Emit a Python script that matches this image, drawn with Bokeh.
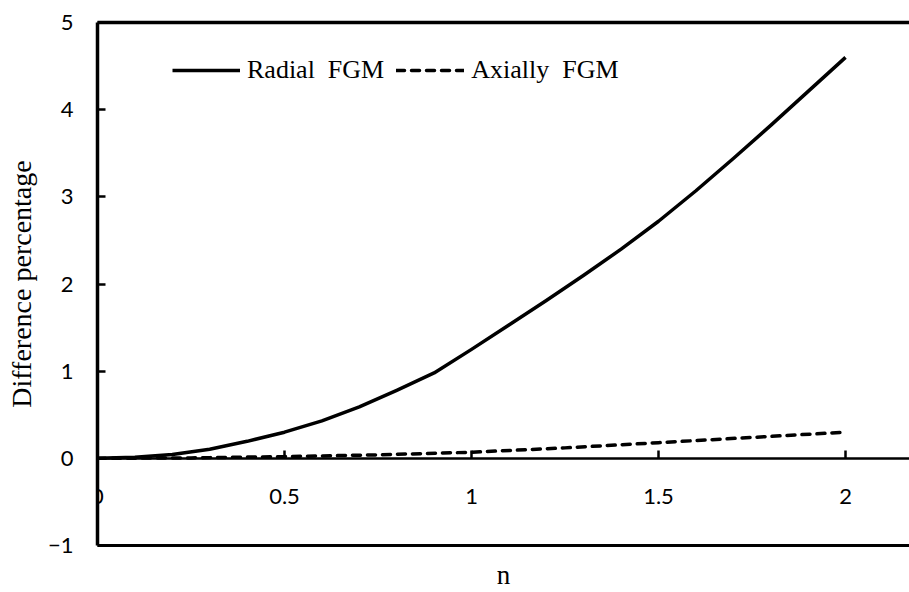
from bokeh.plotting import figure
from bokeh.models import (LinearAxis, FixedTicker, NumeralTickFormatter, Range1d,
                          Legend, LegendItem)
from bokeh.embed import file_html
from bokeh.resources import INLINE

# Power-law index n and the difference percentage for each grading direction
n_radial = [0.0, 0.1, 0.2, 0.3, 0.4, 0.5, 0.6, 0.7, 0.8, 0.9, 1.0,
            1.1, 1.2, 1.3, 1.4, 1.5, 1.6, 1.7, 1.8, 1.9, 2.0]
radial_fgm = [0.0, 0.012, 0.045, 0.105, 0.195, 0.3, 0.43, 0.59, 0.78, 0.98, 1.25,
              1.53, 1.81, 2.1, 2.4, 2.72, 3.07, 3.44, 3.82, 4.21, 4.6]

n_axial = [0.0, 0.25, 0.5, 0.75, 1.0, 1.25, 1.5, 1.75, 2.0]
axial_fgm = [0.0, 0.005, 0.02, 0.04, 0.07, 0.12, 0.18, 0.24, 0.30]

x_ticks = [0, 0.5, 1, 1.5, 2]
y_ticks = [-1, 0, 1, 2, 3, 4, 5]

SERIF = "Liberation Serif"
SANS = "Lato"

p = figure(width=909, height=592, output_backend="svg", toolbar_location=None,
           x_range=Range1d(0, 2.171), y_range=Range1d(-1, 5),
           min_border_left=97, min_border_right=0, min_border_top=22,
           min_border_bottom=44, outline_line_color=None,
           background_fill_color="white", border_fill_color="white")
p.grid.visible = False

# Bottom frame edge carries the "n" title only
xb = p.xaxis[0]
xb.ticker = FixedTicker(ticks=[])
xb.axis_line_width = 3
xb.major_tick_in = 0
xb.major_tick_out = 0
xb.major_label_standoff = 0
xb.axis_label = "n"
xb.axis_label_text_font = SERIF
xb.axis_label_text_font_size = "27px"
xb.axis_label_text_font_style = "normal"
xb.axis_label_text_color = "black"
xb.axis_label_standoff = 14

# Left spine with value ticks
ya = p.yaxis[0]
ya.ticker = FixedTicker(ticks=y_ticks)
ya.axis_line_width = 3.5
ya.major_tick_in = 8
ya.major_tick_out = 0
ya.major_tick_line_width = 2.5
ya.minor_tick_line_color = None
ya.major_label_standoff = 24
ya.major_label_text_font = SANS
ya.major_label_text_font_size = "22px"
ya.major_label_text_color = "black"
ya.axis_label = "Difference percentage"
ya.axis_label_text_font = SERIF
ya.axis_label_text_font_size = "28px"
ya.axis_label_text_font_style = "normal"
ya.axis_label_text_color = "black"
ya.axis_label_standoff = 8

# Horizontal axis crossing at y = 0
x0 = LinearAxis(fixed_location=0, ticker=FixedTicker(ticks=x_ticks),
                formatter=NumeralTickFormatter(format="0.[0]"))
x0.axis_line_width = 2.5
x0.major_tick_in = 8
x0.major_tick_out = 0
x0.major_tick_line_width = 2.5
x0.minor_tick_line_color = None
x0.major_label_standoff = 31
x0.major_label_text_font = SANS
x0.major_label_text_font_size = "22px"
x0.major_label_text_color = "black"
p.add_layout(x0, "below")

# Top frame edge
top = LinearAxis(ticker=FixedTicker(ticks=[]))
top.axis_line_width = 3.5
top.major_tick_in = 0
top.major_tick_out = 0
top.major_label_standoff = 0
p.add_layout(top, "above")

r1 = p.line(n_radial, radial_fgm, line_color="black", line_width=3.5,
            line_join="round")
r2 = p.line(n_axial, axial_fgm, line_color="black", line_width=3.5,
            line_dash="8 7", line_cap="round")

legend = Legend(items=[LegendItem(label="Radial  FGM", renderers=[r1]),
                       LegendItem(label="Axially  FGM", renderers=[r2])],
                location=(75, 460), orientation="horizontal",
                glyph_width=68, glyph_height=20, label_standoff=7, spacing=12,
                padding=0, margin=0, border_line_color=None,
                background_fill_alpha=0, label_text_font=SERIF,
                label_text_font_size="26px", label_text_color="black")
p.add_layout(legend)

open("out.html", "w").write(file_html(p, INLINE))
